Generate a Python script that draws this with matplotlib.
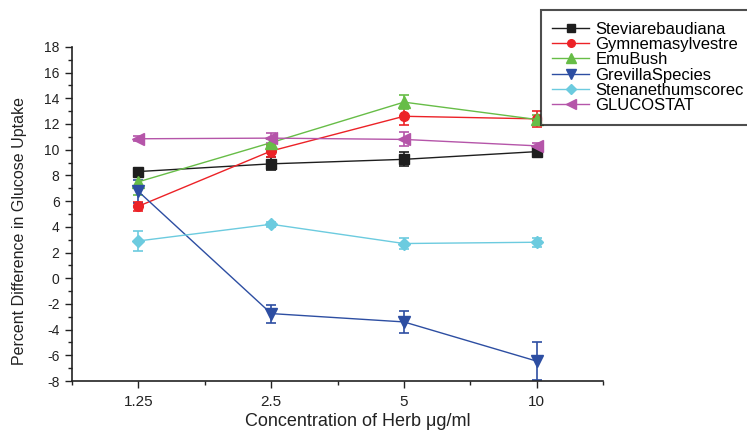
"""Percent difference in glucose uptake vs herb concentration."""

import matplotlib.pyplot as plt
from matplotlib.lines import Line2D
from matplotlib.ticker import FixedLocator, MultipleLocator

plt.rcParams["font.family"] = ["Liberation Sans", "DejaVu Sans"]
plt.rcParams["axes.unicode_minus"] = False

concentrations = ["1.25", "2.5", "5", "10"]

series_names = [
    "Steviarebaudiana",
    "Gymnemasylvestre",
    "EmuBush",
    "GrevillaSpecies",
    "Stenanethumscorec",
    "GLUCOSTAT",
]

stevia = [8.3, 8.9, 9.25, 9.85]
stevia_err = [0.3, 0.5, 0.55, 0.2]

gymnema = [5.6, 9.9, 12.6, 12.4]
gymnema_err = [0.35, 0.5, 0.65, 0.6]

emu_bush = [7.5, 10.55, 13.7, 12.35]
emu_bush_err = [1.05, 0.3, 0.55, 0.35]

grevilla = [6.75, -2.75, -3.4, -6.45]
grevilla_err = [0.9, 0.7, 0.85, 1.5]

stenanethum = [2.9, 4.2, 2.7, 2.8]
stenanethum_err = [0.8, 0.2, 0.45, 0.35]

glucostat = [10.85, 10.9, 10.8, 10.3]
glucostat_err = [0.2, 0.4, 0.55, 0.25]

values = [stevia, gymnema, emu_bush, grevilla, stenanethum, glucostat]
errors = [stevia_err, gymnema_err, emu_bush_err, grevilla_err,
          stenanethum_err, glucostat_err]

colors = ["#1e1e1e", "#ec2227", "#67bd47", "#2d4ea2", "#6ccbdf", "#b555a9"]
markers = ["s", "o", "^", "v", "D", "<"]
marker_sizes = [7, 7, 8, 8, 6.5, 8]

fig = plt.figure(figsize=(7.47, 4.34), dpi=100)
ax = fig.add_axes([0.0964, 0.122, 0.711, 0.770])

x = list(range(len(concentrations)))
handles = []
for name, y, err, color, marker, ms in zip(series_names, values, errors,
                                            colors, markers, marker_sizes):
    ax.errorbar(
        x, y, yerr=err,
        color=color, marker=marker, markersize=ms,
        linewidth=1.0, elinewidth=1.2, capsize=3.5, capthick=1.2,
        clip_on=False,
    )
    # В легенде — только линия с маркером, без усов.
    handles.append(Line2D([], [], color=color, marker=marker,
                          markersize=ms - 1.5, linewidth=1.0))

ax.set_xlim(-0.5, 3.5)
ax.set_ylim(-8, 18)
ax.xaxis.set_major_locator(FixedLocator(x))
ax.set_xticklabels(concentrations)
ax.xaxis.set_minor_locator(FixedLocator([-0.5, 0.5, 1.5, 2.5, 3.5]))
ax.yaxis.set_major_locator(MultipleLocator(2))
ax.yaxis.set_minor_locator(MultipleLocator(1))

ax.spines["top"].set_visible(False)
ax.spines["right"].set_visible(False)
for side in ("left", "bottom"):
    ax.spines[side].set_linewidth(1.2)
    ax.spines[side].set_color("#222222")

ax.tick_params(axis="both", which="major", direction="out", length=5,
               width=1.0, labelsize=10, colors="#222222", pad=4)
ax.tick_params(axis="x", which="major", labelsize=11, pad=5)
ax.tick_params(axis="both", which="minor", direction="out", length=3,
               width=1.0, colors="#222222")

ax.set_xlabel("Concentration of Herb μg/ml", fontsize=13, color="#222222")
ax.set_ylabel("Percent Difference in Glucose Uptake", fontsize=11.5,
              color="#222222")
ax.xaxis.set_label_coords(0.539, -0.095)
ax.yaxis.set_label_coords(-0.085, 0.449)

leg = fig.legend(
    handles=handles,
    labels=series_names,
    loc="upper left",
    bbox_to_anchor=(0.724, 0.977),
    fontsize=12,
    frameon=True,
    fancybox=False,
    handlelength=2.2,
    handletextpad=0.36,
    labelspacing=0.02,
    borderpad=0.7,
    borderaxespad=0,
)
leg.get_frame().set_edgecolor("#222222")
leg.get_frame().set_linewidth(1.5)

fig.savefig("out.png", dpi=100)
